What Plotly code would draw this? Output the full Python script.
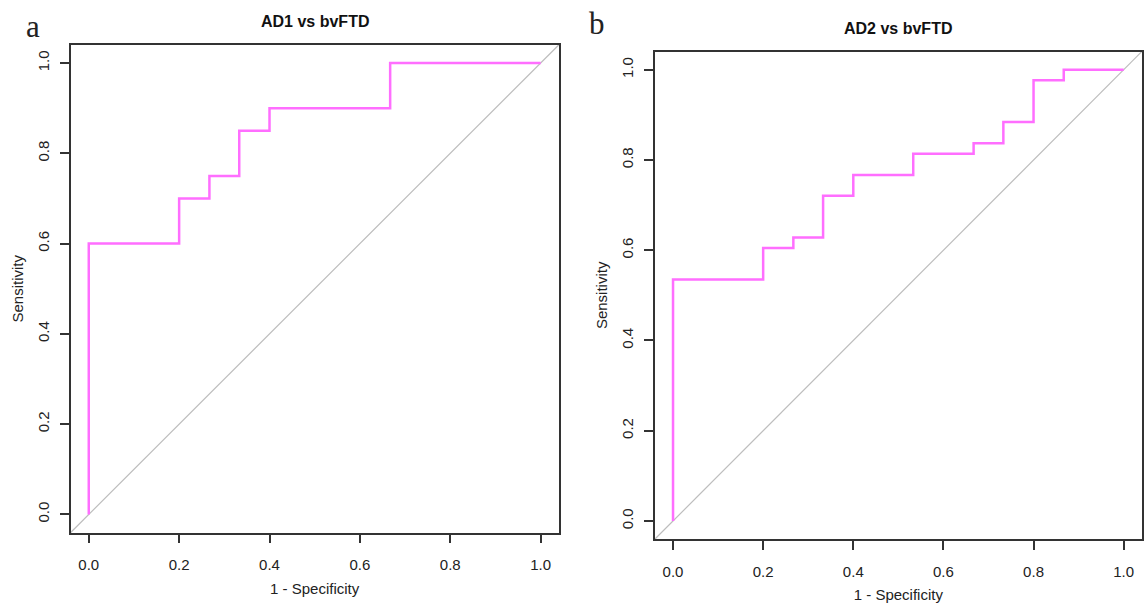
import plotly.graph_objects as go

# ---- data ----
ad1_fpr = [0.0, 0.0, 0.2, 0.267, 0.333, 0.4, 0.667, 1.0]
ad1_tpr = [0.0, 0.6, 0.7, 0.75, 0.85, 0.9, 1.0, 1.0]

ad2_fpr = [0.0, 0.0, 0.2, 0.267, 0.333, 0.4, 0.533, 0.667, 0.733, 0.8, 0.867, 1.0]
ad2_tpr = [0.0, 0.535, 0.605, 0.628, 0.721, 0.767, 0.814, 0.837, 0.884, 0.977, 1.0, 1.0]

tick_vals = [0.0, 0.2, 0.4, 0.6, 0.8, 1.0]
tick_text = ["0.0", "0.2", "0.4", "0.6", "0.8", "1.0"]
titles = ["AD1 vs bvFTD", "AD2 vs bvFTD"]
panel_letters = ["a", "b"]
x_title = "1 - Specificity"
y_title = "Sensitivity"

W, H = 1147, 604
PINK = "#FF6EFF"
FONT = "Liberation Sans, Arial, sans-serif"

fig = go.Figure()
fig.add_trace(go.Scatter(x=ad1_fpr, y=ad1_tpr, mode="lines", line=dict(color=PINK, width=2.5, shape="hv"),
                         xaxis="x", yaxis="y", showlegend=False, hoverinfo="skip"))
fig.add_trace(go.Scatter(x=ad2_fpr, y=ad2_tpr, mode="lines", line=dict(color=PINK, width=2.5, shape="hv"),
                         xaxis="x2", yaxis="y2", showlegend=False, hoverinfo="skip"))

# panel boxes in page pixels: (left, right, top, bottom)
boxes = [(70.7, 558.7, 45.0, 532.5), (655.0, 1141.7, 51.7, 539.0)]

def px(v):
    return v / W

def py(v):
    return 1 - v / H

def xdom(b):
    return [px(b[0]), px(b[1])]

def ydom(b):
    return [py(b[3]), py(b[2])]

axis_common = dict(
    range=[-0.04, 1.04], tickvals=tick_vals, ticktext=tick_text,
    showgrid=False, zeroline=False, showline=True, mirror=True,
    linecolor="#333333", linewidth=1.5, ticks="outside", ticklen=9,
    tickwidth=1.5, tickcolor="#333333", automargin=False,
    tickfont=dict(family=FONT, size=15, color="#222222"),
)

layout = dict(
    width=W, height=H, margin=dict(l=0, r=0, t=0, b=0, autoexpand=False),
    paper_bgcolor="white", plot_bgcolor="white", showlegend=False,
)
for i, b in enumerate(boxes):
    sfx = "" if i == 0 else str(i + 1)
    layout["xaxis" + sfx] = dict(axis_common, domain=xdom(b), anchor="y" + sfx,
                                 ticklabelstandoff=9,
                                 title=dict(text=x_title, font=dict(family=FONT, size=15, color="#222222"), standoff=11))
    layout["yaxis" + sfx] = dict(axis_common, domain=ydom(b), anchor="x" + sfx, tickangle=-90,
                                 ticklabelstandoff=5,
                                 title=dict(text=y_title, font=dict(family=FONT, size=15, color="#222222"), standoff=8))
fig.update_layout(**layout)

shapes = []
annotations = []
for i, b in enumerate(boxes):
    sfx = "" if i == 0 else str(i + 1)
    shapes.append(dict(type="line", xref="x" + sfx + " domain", yref="y" + sfx + " domain",
                       x0=0, y0=0, x1=1, y1=1, line=dict(color="#BDBDBD", width=1.2), layer="below"))
    annotations.append(dict(text="<b>" + titles[i] + "</b>", xref="x" + sfx + " domain", yref="paper",
                            x=0.5, y=py(b[2] - 23), xanchor="center", yanchor="middle",
                            showarrow=False, font=dict(family=FONT, size=16, color="#111111")))
letter_pos = [(33, 27), (597, 23)]
for i, (lx, ly) in enumerate(letter_pos):
    annotations.append(dict(text=panel_letters[i], xref="paper", yref="paper", x=px(lx), y=py(ly),
                            xanchor="center", yanchor="middle", showarrow=False,
                            font=dict(family="Liberation Serif, DejaVu Serif, serif", size=31, color="#222222")))
fig.update_layout(shapes=shapes, annotations=annotations)

fig.write_html("out.html",
               config={"displayModeBar": False},
               post_script="document.body.style.margin='0';document.body.style.overflow='hidden';")
